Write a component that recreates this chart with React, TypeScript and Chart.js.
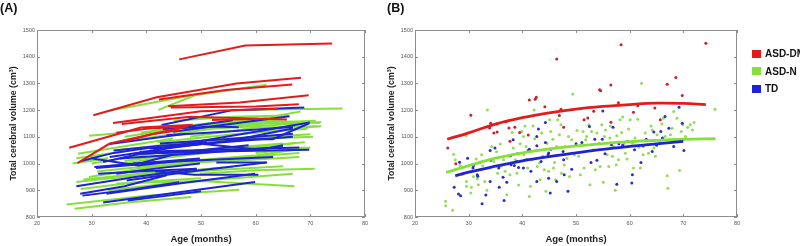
import React, { useEffect, useRef } from "react";
import { Chart, registerables } from "chart.js";
Chart.register(...registerables);

type P = [number, number];

const GROUPS = ["ASD-DM", "ASD-N", "TD"];
const LINE_COLORS = ["#e31b1b", "#86e03c", "#1f23d6"];
const POINT_COLORS = ["#c8202e", "#93dc55", "#2a2ec8"];
const X_TICKS = [20, 30, 40, 50, 60, 70, 80];
const Y_TICKS = [800, 900, 1000, 1100, 1200, 1300, 1400, 1500];
const X_TITLE = "Age (months)";
const Y_TITLE = "Total cerebral volume (cm³)";

// ---- Panel A: individual trajectories ----
const RED_SUBJECTS: P[][] = [
  [[46, 1390], [58.1, 1442], [74, 1449]],
  [[30.3, 1181], [41.9, 1248], [56.5, 1300], [68.3, 1321]],
  [[42.3, 1240], [54.5, 1275], [66.7, 1296]],
  [[44, 1215], [57.1, 1229], [69.7, 1256]],
  [[44.5, 1210], [60, 1214], [67.9, 1222]],
  [[33.9, 1152], [50, 1196], [64, 1205]],
  [[35.5, 1148], [48, 1175], [65.7, 1165]],
  [[25.9, 1059], [39, 1135], [48.5, 1145]],
  [[27.4, 1002], [33.3, 1075], [47.3, 1138]],
  [[34.5, 1115], [40, 1130], [47.7, 1140]],
  [[52, 1163], [60.5, 1168]],
  [[36, 1083], [41, 1110], [46, 1125]],
];

const BLUE_SUBJECTS: P[][] = [
  [[27.2, 915], [38, 950], [49.2, 981]],
  [[27.9, 887], [36, 915], [43.7, 956]],
  [[28.3, 880], [38, 905], [46, 930]],
  [[32.1, 854], [45, 890], [59.9, 931]],
  [[32.7, 887], [46, 925], [59.9, 962]],
  [[36.4, 937], [48, 970], [61.9, 1004]],
  [[31.2, 962], [40, 972], [49.2, 981]],
  [[30.5, 987], [40, 1003], [49.8, 1019]],
  [[27.9, 1009], [34, 1040], [41.9, 1063]],
  [[32.1, 1006], [47.3, 1075], [69.9, 1154]],
  [[33.3, 1025], [45, 1060], [55.8, 1087], [66.8, 1131]],
  [[35.2, 1019], [50, 1040], [65, 1062]],
  [[37.6, 1037], [55, 1046], [69.8, 1052]],
  [[38.8, 1044], [53, 1052], [68, 1060]],
  [[40.6, 1056], [54, 1080], [66.8, 1100]],
  [[42.5, 1075], [55, 1092], [66.8, 1112]],
  [[42.8, 1144], [55.8, 1200], [68.9, 1210]],
  [[44.9, 1119], [56, 1150], [66.2, 1177]],
  [[43.7, 1106], [55, 1120], [66.8, 1137]],
  [[37.6, 1000], [50, 1012], [63.2, 1025]],
  [[34.5, 962], [42, 982], [49.8, 1000]],
  [[33.3, 1073], [40, 1092], [47.3, 1112]],
  [[47.3, 1137], [55.8, 1162]],
  [[30.8, 983], [37.9, 996], [44.8, 1033]],
  [[39.1, 1037], [47.6, 1045], [58.7, 1069]],
  [[41.3, 1054], [50, 1074], [60.9, 1052], [65, 1069]],
  [[43, 1129], [52.5, 1139], [56.9, 1136]],
  [[34, 1049], [42.7, 1067], [51.1, 1079]],
  [[29.8, 1020], [38.5, 993], [47.7, 1014]],
  [[36.6, 862], [44, 880], [50, 896]],
  [[41.6, 971], [48.8, 958], [60.5, 958]],
  [[52.8, 1004], [62.1, 1004]],
  [[54.9, 1091], [63.1, 1091], [69.8, 1151]],
];

const GREEN_SUBJECTS: P[][] = [
  [[25.4, 847], [40, 880], [57, 902]],
  [[26.9, 831], [37, 855], [48.2, 875]],
  [[27.5, 1037], [36, 1065], [44.9, 1094]],
  [[27.2, 1020], [36, 1045]],
  [[33.6, 1200], [47, 1250], [62, 1295]],
  [[55.8, 1200], [66, 1203], [75.9, 1206]],
  [[34.5, 925], [50, 935], [67.1, 915]],
  [[44.9, 927], [56, 945], [66.8, 962]],
  [[49.8, 962], [60, 975], [70.8, 981]],
  [[27.2, 931], [40, 960], [55.8, 987]],
  [[28.5, 940], [45, 975]],
  [[29.5, 950], [42, 990], [52, 1010]],
  [[33, 990], [45, 1030], [60, 1060]],
  [[36, 1010], [50, 1050], [65, 1075]],
  [[30, 1000], [42, 1040]],
  [[40, 1060], [55, 1090], [70, 1110]],
  [[38, 1090], [52, 1130], [68, 1150]],
  [[45, 1120], [58, 1150], [71, 1160]],
  [[48, 1100], [60, 1135], [72, 1140]],
  [[50, 1140], [62, 1160], [71.7, 1152]],
  [[42, 1080], [56, 1110], [69.5, 1130]],
  [[35, 1050], [47, 1080], [60, 1100]],
  [[44, 1070], [57, 1090], [70.5, 1100]],
  [[46, 1040], [58, 1060], [67, 1075]],
  [[52, 1050], [63, 1070], [69, 1080]],
  [[41, 1015], [53, 1045], [64, 1065]],
  [[31, 970], [40, 990], [48, 1000]],
  [[37, 975], [50, 1005], [62, 1020]],
  [[43, 1000], [55, 1020], [68, 1040]],
  [[47, 1010], [60, 1030], [70, 1060]],
  [[39, 1115], [49, 1145], [58, 1165]],
  [[45, 1160], [56, 1175], [66, 1180]],
  [[53, 1135], [62, 1150], [72, 1155]],
  [[57, 1110], [64, 1125], [71.3, 1140]],
  [[26.5, 1000], [33, 1020]],
  [[28, 905], [38, 930], [50, 945]],
  [[33, 900], [44, 925]],
  [[37, 950], [52, 975], [65, 990]],
  [[41, 960], [54, 985]],
  [[55, 1010], [68, 1025]],
  [[60, 1040], [69, 1060]],
  [[36, 1100], [47, 1135]],
  [[29.5, 1104], [36, 1115]],
  [[42.2, 1201], [49.4, 1260]],
  [[52.4, 1145], [60.1, 1164], [68.2, 1195]],
];

// ---- Panel B: all scans + group fits ----
const RED_POINTS: P[] = [
  [26.1, 1058], [27.6, 999], [30.4, 1181], [33.9, 1133], [34.1, 1151], [34.7, 1114], [35.3, 1118],
  [35.3, 1148], [37.0, 1157], [37.5, 1133], [37.7, 1084], [38.6, 1136], [39.5, 1116], [41.1, 1107],
  [41.3, 1238], [42.4, 1241], [42.6, 1248], [44.2, 1213], [46.4, 1391], [46.9, 1180], [47.2, 1203],
  [47.7, 1136], [51.5, 1164], [52.2, 1171], [53.3, 1196], [54.4, 1276], [54.6, 1273], [56.5, 1294],
  [56.5, 1155], [57.9, 1228], [58.4, 1445], [60.7, 1192], [61.5, 1216], [64.7, 1208], [65.7, 1164],
  [67.0, 1297], [68.6, 1322], [69.8, 1255], [74.2, 1450],
];

const GREEN_POINTS: P[] = [
  [25.7, 859], [25.7, 842], [27, 825], [27.2, 1035], [27.5, 1014], [28.4, 993], [28.8, 959],
  [29.5, 1104], [29.6, 933], [29.6, 915], [30.4, 890], [30.5, 911], [30.6, 971], [30.9, 952],
  [31.4, 1017], [31.6, 943], [31.8, 921], [32.3, 977], [32.4, 1033], [32.6, 992], [33.5, 1201],
  [33, 933], [33.4, 900], [34.3, 1064], [34.7, 1008], [35.2, 1044], [35.4, 964], [35.9, 1073],
  [36, 990], [36.5, 1014], [36.8, 971], [37.1, 883], [37.5, 1027], [37.7, 958], [38.1, 1116],
  [38.3, 1058], [38.7, 1014], [39, 964], [39.3, 920], [39.6, 1074], [39.9, 1120], [40.2, 1101],
  [40.3, 1033], [40.5, 1141], [40.7, 1064], [41, 983], [41.3, 877], [41.5, 915], [41.8, 1014],
  [42, 1141], [42.2, 1201], [42.3, 1093], [42.6, 1049], [42.8, 989], [43.2, 1002], [43.3, 939],
  [43.6, 1114], [43.8, 1027], [44.1, 977], [44.4, 896], [44.6, 1076], [44.9, 971], [45.1, 1164],
  [45.3, 1120], [45.7, 1091], [45.8, 983], [46, 1004], [46.2, 939], [46.4, 1064], [46.6, 1164],
  [46.9, 1108], [47.2, 1145], [47.3, 964], [47.8, 995], [48, 1064], [48.3, 1020], [48.6, 1101],
  [48.8, 952], [49.2, 1089], [49.4, 1260], [49.7, 1033], [50.2, 1124], [50.5, 1027], [50.8, 958],
  [51.3, 1120], [51.5, 983], [51.8, 1089], [52, 1101], [52.4, 1145], [52.6, 921], [52.9, 1120],
  [53.3, 1052], [53.6, 977], [53.9, 1114], [54.3, 1076], [54.5, 989], [54.8, 1145], [55.1, 930],
  [55.3, 1101], [55.5, 1126], [55.8, 1033], [56.1, 989], [56.3, 1096], [56.4, 1141], [56.8, 1027],
  [57, 1064], [57.3, 900], [57.5, 996], [57.6, 1104], [57.9, 1014], [58.2, 1164], [58.5, 1116],
  [58.7, 1174], [59, 1076], [59.2, 1039], [59.5, 1017], [59.8, 1129], [60.1, 1164], [60.5, 1076],
  [60.7, 983], [61, 1096], [61.5, 1166], [61.7, 1061], [62, 983], [62.2, 1301], [62.5, 1033],
  [62.9, 1114], [63.2, 1086], [63.5, 1039], [64, 1141], [64.2, 1126], [64.5, 1058], [64.8, 1027],
  [65.1, 1108], [65.6, 1083], [66, 1149], [66.3, 1170], [66.6, 1101], [67, 954], [67.1, 908],
  [67.6, 1108], [67.9, 1132], [68.2, 1195], [68.5, 1089], [68.8, 1170], [69.3, 974], [69.6, 1120],
  [69.9, 1145], [70.4, 1101], [70.8, 1136], [71.3, 1145], [71.7, 1126], [72, 1154], [75.9, 1203],
];

const BLUE_POINTS: P[] = [
  [27.3, 911], [28.3, 1005], [28.1, 886], [28.5, 880], [29.8, 1020], [30.8, 983], [30.9, 992],
  [31.6, 958], [31.7, 953], [32.1, 1005], [32.5, 850], [33.2, 882], [34, 1049], [34.1, 1012],
  [34, 933], [34.9, 1058], [35.7, 911], [35.6, 983], [36.4, 949], [36.6, 862], [37.1, 930],
  [37.8, 1029], [37.9, 996], [38.3, 1089], [38.5, 993], [39.1, 1037], [39, 1008], [39.3, 985],
  [40.2, 983], [40.8, 1014], [41.1, 1049], [41.3, 1054], [41.6, 971], [42.7, 1067], [42.7, 1101],
  [43, 1129], [42.7, 933], [43.5, 1008], [44.3, 1154], [44.3, 1079], [44.8, 1033], [44.9, 1040],
  [44.9, 945], [45.2, 890], [45.3, 1054], [46.4, 933], [47.7, 1014], [47.8, 958], [47.6, 1045],
  [48.5, 896], [49.2, 979], [50, 1074], [51.1, 1079], [52.5, 1139], [52.8, 1004], [53.9, 1012],
  [53.5, 1091], [54.9, 1091], [55, 1197], [55.4, 1037], [56.6, 1070], [56.9, 1136], [57.6, 923],
  [58, 1074], [58.7, 1069], [59.6, 1083], [60.5, 958], [60.4, 927], [60.9, 1052], [62.1, 1004],
  [62.5, 1066], [63.1, 1091], [64.2, 1045], [64.5, 1118], [65, 1069], [65.8, 1120], [66.1, 1096],
  [66.6, 1176], [67.3, 1132], [68.2, 1064], [69.2, 1211], [69.8, 1151], [70.1, 1049],
];

const RED_FIT: P[] = [
  [26, 1091], [30, 1115], [35, 1148], [40, 1172], [45, 1190], [50, 1204], [55, 1214],
  [60, 1221], [65, 1226], [70, 1225], [74.2, 1221],
];
const GREEN_FIT: P[] = [
  [25.8, 967], [30, 992], [35, 1020], [40, 1040], [45, 1055], [50, 1066], [55, 1075],
  [60, 1082], [65, 1087], [70, 1091], [76, 1093],
];
const BLUE_FIT: P[] = [
  [27.5, 954], [30, 968], [35, 990], [40, 1010], [45, 1026], [50, 1040], [55, 1053],
  [60, 1064], [65, 1074], [70, 1083],
];

const FONT = "'Liberation Sans', Arial, Helvetica, sans-serif";
const toXY = (pts: P[]) => pts.map(([x, y]) => ({ x, y }));

const boxPlugin = {
  id: "matlabBox",
  afterDatasetsDraw(chart: any) {
    const { ctx, chartArea: a, scales } = chart;
    ctx.save();
    ctx.strokeStyle = "#8d8d8d";
    ctx.lineWidth = 1;
    ctx.strokeRect(a.left + 0.5, a.top + 0.5, a.right - a.left - 1, a.bottom - a.top - 1);
    const L = 3;
    ctx.beginPath();
    for (const v of X_TICKS) {
      const px = Math.round(scales.x.getPixelForValue(v)) + 0.5;
      ctx.moveTo(px, a.bottom); ctx.lineTo(px, a.bottom - L);
      ctx.moveTo(px, a.top); ctx.lineTo(px, a.top + L);
    }
    for (const v of Y_TICKS) {
      const py = Math.round(scales.y.getPixelForValue(v)) + 0.5;
      ctx.moveTo(a.left, py); ctx.lineTo(a.left + L, py);
      ctx.moveTo(a.right, py); ctx.lineTo(a.right - L, py);
    }
    ctx.stroke();
    ctx.restore();
  },
};

function makeOptions(padRight: number): any {
  const tickFont = { family: FONT, size: 5.5 };
  return {
    responsive: false,
    animation: false,
    layout: { padding: { top: 30, right: padRight, left: 0, bottom: 0 } },
    plugins: { legend: { display: false }, tooltip: { enabled: false } },
    scales: {
      x: {
        type: "linear",
        min: 20,
        max: 80,
        afterBuildTicks: (s: any) => { s.ticks = X_TICKS.map((value) => ({ value })); },
        afterFit: (s: any) => { s.height = 29; },
        grid: { display: false, drawTicks: false },
        border: { display: false },
        ticks: { padding: 3, color: "#555", font: tickFont, maxRotation: 0, autoSkip: false, callback: (v: any) => String(v) },
        title: { display: true, text: X_TITLE, color: "#222", font: { family: FONT, size: 9.5, weight: "bold" }, padding: { top: 0, bottom: 0.5 } },
      },
      y: {
        type: "linear",
        min: 800,
        max: 1500,
        afterBuildTicks: (s: any) => { s.ticks = Y_TICKS.map((value) => ({ value })); },
        afterFit: (s: any) => { s.width = 37; },
        grid: { display: false, drawTicks: false },
        border: { display: false },
        ticks: { padding: 2, color: "#555", font: tickFont, autoSkip: false, callback: (v: any) => String(v) },
        title: { display: true, text: Y_TITLE, color: "#222", font: { family: FONT, size: 8.8, weight: "bold" }, padding: { top: 8, bottom: 0 } },
      },
    },
  };
}

function ChartCanvas({ left, width, datasets, padRight }: { left: number; width: number; datasets: any[]; padRight: number }) {
  const ref = useRef<HTMLCanvasElement>(null);
  useEffect(() => {
    const chart = new Chart(ref.current as HTMLCanvasElement, {
      type: "scatter",
      data: { datasets },
      options: makeOptions(padRight),
      plugins: [boxPlugin],
    } as any);
    return () => chart.destroy();
  }, []);
  return (
    <canvas
      ref={ref}
      width={width}
      height={246}
      style={{ position: "absolute", left, top: 0, width, height: 246, display: "block" }}
    />
  );
}

function lineSets(subjects: P[][], color: string) {
  return subjects.map((s) => ({
    data: toXY(s),
    showLine: true,
    borderColor: color,
    borderWidth: 2,
    pointRadius: 0,
    fill: false,
  }));
}

function pointSet(points: P[], color: string) {
  return {
    data: toXY(points),
    showLine: false,
    pointRadius: 1.5,
    pointBorderWidth: 0,
    backgroundColor: color,
    borderColor: color,
  };
}

function fitSet(points: P[], color: string) {
  return {
    data: toXY(points),
    showLine: true,
    borderColor: color,
    borderWidth: 2.8,
    pointRadius: 0,
    tension: 0.4,
    fill: false,
  };
}

export default function App() {
  // first dataset is drawn on top
  const datasetsA = [
    ...lineSets(RED_SUBJECTS, LINE_COLORS[0]),
    ...lineSets(BLUE_SUBJECTS, LINE_COLORS[2]),
    ...lineSets(GREEN_SUBJECTS, LINE_COLORS[1]),
  ];
  const datasetsB = [
    fitSet(RED_FIT, LINE_COLORS[0]),
    fitSet(BLUE_FIT, LINE_COLORS[2]),
    fitSet(GREEN_FIT, LINE_COLORS[1]),
    pointSet(RED_POINTS, POINT_COLORS[0]),
    pointSet(BLUE_POINTS, POINT_COLORS[2]),
    pointSet(GREEN_POINTS, POINT_COLORS[1]),
  ];
  const labelStyle: React.CSSProperties = {
    position: "absolute",
    top: 0,
    fontFamily: FONT,
    fontWeight: "bold",
    fontSize: 12.5,
    lineHeight: "16px",
    color: "#111",
  };
  return (
    <div style={{ position: "fixed", left: 0, top: 0, width: 800, height: 246, background: "#fff", overflow: "hidden" }}>
      <ChartCanvas left={0} width={390} datasets={datasetsA} padRight={25} />
      <ChartCanvas left={378} width={422} datasets={datasetsB} padRight={63} />
      <div style={{ ...labelStyle, left: 0 }}>(A)</div>
      <div style={{ ...labelStyle, left: 387 }}>(B)</div>
      {GROUPS.map((g, i) => (
        <div key={g} style={{ position: "absolute", left: 752, top: 49 + i * 17.5, height: 9, display: "flex", alignItems: "center", whiteSpace: "nowrap" }}>
          <div style={{ width: 9, height: 8, background: LINE_COLORS[i] }} />
          <span style={{ marginLeft: 4, fontFamily: FONT, fontWeight: "bold", fontSize: 10, color: "#111" }}>{g}</span>
        </div>
      ))}
    </div>
  );
}
